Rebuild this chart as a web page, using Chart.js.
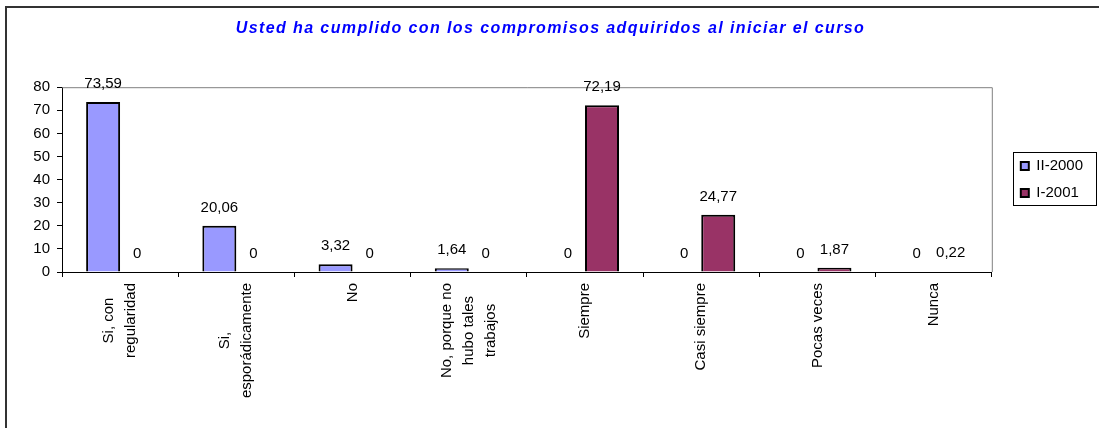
<!DOCTYPE html>
<html>
<head>
<meta charset="utf-8">
<script src="https://cdn.jsdelivr.net/npm/chart.js@4.4.1/dist/chart.umd.min.js"></script>
<style>
  html, body { margin: 0; padding: 0; background: #fff; overflow: hidden; }
  #wrap { position: relative; width: 1099px; height: 428px; }
  #frame { position: absolute; left: 5px; top: 6px; width: 1200px; height: 600px;
           border-left: 2px solid #333; border-top: 2px solid #333; pointer-events: none; }
</style>
</head>
<body>
<div id="wrap">
  <canvas id="c" width="1099" height="428"></canvas>
  <div id="frame"></div>
</div>
<script>
// ---- data ----
const chartTitle = 'Usted ha cumplido con los compromisos adquiridos al iniciar el curso';
const categories = [
  ['Si, con', 'regularidad'],
  ['Si,', 'esporádicamente'],
  'No',
  ['No, porque no', 'hubo tales', 'trabajos'],
  'Siempre',
  'Casi siempre',
  'Pocas veces',
  'Nunca'
];
const seriesNames = ['II-2000', 'I-2001'];
const valuesII2000 = [73.59, 20.06, 3.32, 1.64, 0, 0, 0, 0];
const valuesI2001  = [0, 0, 0, 0, 72.19, 24.77, 1.87, 0.22];
const yTickValues = [0, 10, 20, 30, 40, 50, 60, 70, 80];

// ---- styling ----
const FONT = '"Liberation Sans", Arial, sans-serif';
const colors = ['#9999FF', '#993366'];

const fmt = v => String(v).replace('.', ',');

// value labels above bars
const valueLabels = {
  id: 'valueLabels',
  afterDatasetsDraw(chart) {
    const ctx = chart.ctx;
    ctx.save();
    ctx.font = '15px ' + FONT;
    ctx.fillStyle = '#000';
    ctx.textAlign = 'center';
    ctx.textBaseline = 'alphabetic';
    chart.data.datasets.forEach((ds, i) => {
      chart.getDatasetMeta(i).data.forEach((bar, j) => {
        ctx.fillText(fmt(ds.data[j]), bar.x, bar.y - 14);
      });
    });
    ctx.restore();
  }
};

// gray top & right edges of the plot area
const plotFrame = {
  id: 'plotFrame',
  beforeDatasetsDraw(chart) {
    const { ctx, chartArea: a } = chart;
    ctx.save();
    ctx.strokeStyle = '#808080';
    ctx.lineWidth = 1;
    ctx.beginPath();
    ctx.moveTo(a.left, a.top + 0.5);
    ctx.lineTo(a.right + 0.5, a.top + 0.5);
    ctx.lineTo(a.right + 0.5, a.bottom);
    ctx.stroke();
    ctx.restore();
  }
};

// border around the legend
const legendFrame = {
  id: 'legendFrame',
  afterDraw(chart) {
    const hb = chart.legend && chart.legend.legendHitBoxes;
    if (!hb || !hb.length) return;
    const left = Math.min(...hb.map(h => h.left)) - 8;
    const right = Math.max(...hb.map(h => h.left + h.width)) + 13;
    const top = Math.min(...hb.map(h => h.top)) - 6.5;
    const bottom = Math.max(...hb.map(h => h.top + h.height)) + 4.5;
    const ctx = chart.ctx;
    ctx.save();
    ctx.strokeStyle = '#000';
    ctx.lineWidth = 1;
    ctx.strokeRect(Math.round(left) + 0.5, Math.round(top) + 0.5,
                   Math.round(right - left), Math.round(bottom - top));
    ctx.restore();
  }
};

// letter-spaced title, centred on the full canvas width
const spacedTitle = {
  id: 'spacedTitle',
  beforeDraw(chart) {
    const t = chart.titleBlock;
    if (t && !t._spaced) {
      const orig = t.draw.bind(t);
      t.draw = function () {
        chart.ctx.save();
        chart.ctx.letterSpacing = '1.4px';
        chart.ctx.translate(4, 0);
        orig();
        chart.ctx.restore();
      };
      t._spaced = true;
    }
  }
};

// center multi-line rotated category labels like the original
function centerLabels(scale) {
  if (scale._centerWrapped) return;
  const orig = scale._computeLabelItems.bind(scale);
  scale._computeLabelItems = function (area) {
    const items = orig(area);
    const ctx = scale.ctx;
    items.forEach(it => {
      if (Array.isArray(it.label) && it.label.length > 1) {
        ctx.save();
        ctx.font = it.font.string;
        const maxW = Math.max(...it.label.map(s => ctx.measureText(s).width));
        ctx.restore();
        const n = it.label.length;
        it.options.translation[0] -= (n - 1) * it.font.lineHeight / 2;
        it.options.translation[1] += maxW / 2;
        it.options.textAlign = 'center';
      }
    });
    return items;
  };
  scale._centerWrapped = true;
}

new Chart(document.getElementById('c'), {
  type: 'bar',
  data: {
    labels: categories,
    datasets: [
      { label: seriesNames[0], data: valuesII2000, backgroundColor: colors[0],
        borderColor: '#000', borderWidth: 2 },
      { label: seriesNames[1], data: valuesI2001, backgroundColor: colors[1],
        borderColor: '#000', borderWidth: 2 }
    ]
  },
  options: {
    responsive: false,
    animation: false,
    devicePixelRatio: 1,
    layout: { padding: { left: 0, right: 6, top: 0, bottom: 0 } },
    datasets: { bar: { categoryPercentage: 0.585, barPercentage: 1.0 } },
    plugins: {
      title: {
        display: true,
        text: chartTitle,
        color: '#0000FF',
        font: { family: FONT, size: 16, style: 'italic', weight: 'bold' },
        padding: { top: 19, bottom: 49 }
      },
      legend: {
        position: 'right',
        fullSize: false,
        labels: {
          color: '#000',
          font: { family: FONT, size: 15 },
          boxWidth: 8,
          boxHeight: 8,
          padding: 12
        }
      },
      tooltip: { enabled: false }
    },
    scales: {
      x: {
        grid: { display: true, drawOnChartArea: false, drawTicks: true, tickLength: 5,
                color: '#000', offset: true },
        border: { display: true, color: '#000', width: 1 },
        ticks: {
          color: '#000',
          font: { family: FONT, size: 15, lineHeight: 1.4667 },
          minRotation: 90, maxRotation: 90,
          autoSkip: false,
          padding: 6
        },
        afterFit(s) { s.height = 156; },
        afterUpdate: centerLabels
      },
      y: {
        min: 0, max: 80,
        afterBuildTicks(s) { s.ticks = yTickValues.map(v => ({ value: v })); },
        grid: { display: true, drawOnChartArea: false, drawTicks: true, tickLength: 5, color: '#000' },
        border: { display: true, color: '#000', width: 1 },
        ticks: { color: '#000', font: { family: FONT, size: 15 }, padding: 7 },
        afterFit(s) { s.width = 62; }
      },
      y2: {
        position: 'right',
        display: true,
        grid: { display: false },
        border: { display: false },
        ticks: { display: false },
        afterFit(s) { s.width = 17; }
      }
    }
  },
  plugins: [valueLabels, plotFrame, legendFrame, spacedTitle]
});
</script>
</body>
</html>
